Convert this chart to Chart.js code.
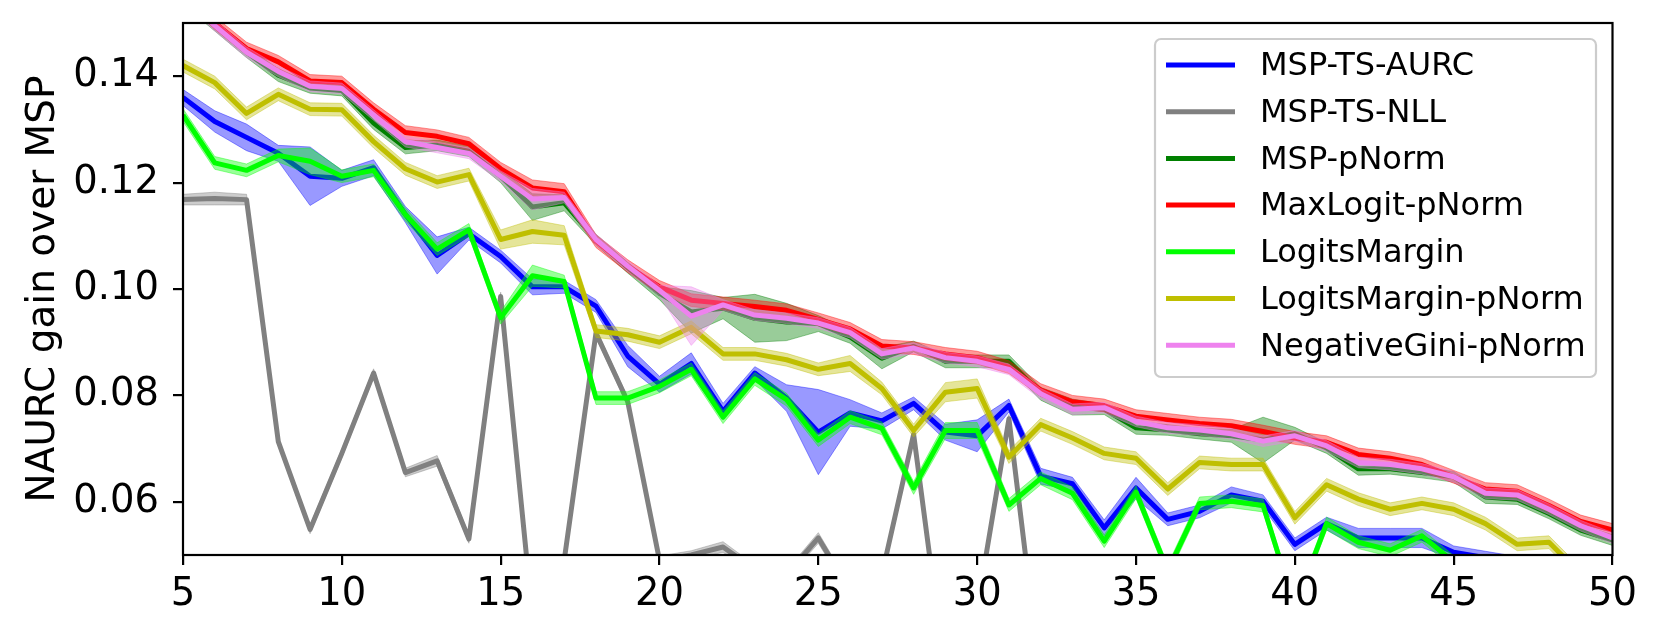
<!DOCTYPE html>
<html>
<head>
<meta charset="utf-8">
<script src="https://cdn.jsdelivr.net/npm/chart.js@4.4.1/dist/chart.umd.min.js"></script>
<style>
  html, body { margin: 0; padding: 0; background: #fff; }
  #wrap { width: 1660px; height: 638px; position: relative; }
</style>
</head>
<body>
<div id="wrap"><canvas id="chart"></canvas></div>
<script>
const xValues = [5, 6, 7, 8, 9, 10, 11, 12, 13, 14, 15, 16, 17, 18, 19, 20, 21, 22, 23, 24, 25, 26, 27,
    28, 29, 30, 31, 32, 33, 34, 35, 36, 37, 38, 39, 40, 41, 42, 43, 44, 45, 46, 47, 48, 49, 50];
const yTicks = [0.06, 0.08, 0.10, 0.12, 0.14];
const xTickStep = 5;

const seriesNames = ['MSP-TS-AURC', 'MSP-TS-NLL', 'MSP-pNorm', 'MaxLogit-pNorm',
    'LogitsMargin', 'LogitsMargin-pNorm', 'NegativeGini-pNorm'];
const seriesColors = [[0, 0, 255], [128, 128, 128], [0, 128, 0], [255, 0, 0],
    [0, 255, 0], [191, 191, 0], [238, 130, 238]];

// mean values per method
const mspTsAurc = [0.1360, 0.1315, 0.1285, 0.1255, 0.1212, 0.1208, 0.1228, 0.1140, 0.1063, 0.1104,
    0.1061, 0.1004, 0.1004, 0.0968, 0.0874, 0.0821, 0.0860, 0.0770, 0.0842, 0.0795,
    0.0731, 0.0767, 0.0752, 0.0785, 0.0731, 0.0724, 0.0781, 0.0648, 0.0634, 0.0551,
    0.0626, 0.0567, 0.0582, 0.0613, 0.0601, 0.0520, 0.0559, 0.0532, 0.0532, 0.0532,
    0.0505, 0.0495, 0.0485, 0.0475, 0.0465, 0.0455];
const mspTsNll = [0.1168, 0.1170, 0.1168, 0.0713, 0.0548, 0.0691, 0.0842, 0.0655, 0.0677, 0.0530,
    0.0986, 0.0386, 0.0490, 0.0917, 0.0788, 0.0490, 0.0500, 0.0515, 0.0473, 0.0463,
    0.0532, 0.0433, 0.0463, 0.0727, 0.0273, 0.0400, 0.0756, 0.0264, 0.0380, 0.0350,
    0.0410, 0.0330, 0.0370, 0.0400, 0.0340, 0.0310, 0.0360, 0.0390, 0.0330, 0.0350,
    0.0300, 0.0320, 0.0340, 0.0290, 0.0310, 0.0300];
const mspPnorm = [0.1545, 0.1495, 0.1445, 0.1402, 0.1378, 0.1373, 0.1312, 0.1266, 0.1270, 0.1259,
    0.1212, 0.1154, 0.1162, 0.1093, 0.1040, 0.0992, 0.0957, 0.0964, 0.0945, 0.0938,
    0.0935, 0.0910, 0.0870, 0.0892, 0.0864, 0.0864, 0.0864, 0.0803, 0.0778, 0.0774,
    0.0739, 0.0735, 0.0728, 0.0724, 0.0716, 0.0728, 0.0701, 0.0662, 0.0662, 0.0655,
    0.0647, 0.0609, 0.0605, 0.0578, 0.0547, 0.0528];
const maxLogitPnorm = [0.1555, 0.1500, 0.1452, 0.1427, 0.1391, 0.1388, 0.1338, 0.1294, 0.1287, 0.1273,
    0.1226, 0.1190, 0.1183, 0.1090, 0.1043, 0.1004, 0.0979, 0.0973, 0.0967, 0.0960,
    0.0943, 0.0925, 0.0893, 0.0889, 0.0878, 0.0871, 0.0853, 0.0810, 0.0788, 0.0781,
    0.0761, 0.0754, 0.0747, 0.0743, 0.0732, 0.0720, 0.0712, 0.0689, 0.0682, 0.0670,
    0.0647, 0.0624, 0.0620, 0.0593, 0.0563, 0.0547];
const logitsMargin = [0.1327, 0.1237, 0.1223, 0.1251, 0.1240, 0.1212, 0.1223, 0.1140, 0.1075, 0.1111,
    0.0946, 0.1025, 0.1014, 0.0795, 0.0795, 0.0817, 0.0849, 0.0759, 0.0831, 0.0792,
    0.0716, 0.0759, 0.0738, 0.0626, 0.0734, 0.0734, 0.0594, 0.0644, 0.0616, 0.0526,
    0.0618, 0.0470, 0.0597, 0.0601, 0.0593, 0.0402, 0.0559, 0.0524, 0.0509, 0.0536,
    0.0487, 0.0470, 0.0460, 0.0450, 0.0440, 0.0430];
const logitsMarginPnorm = [0.1420, 0.1388, 0.1330, 0.1366, 0.1338, 0.1337, 0.1277, 0.1226, 0.1201, 0.1215,
    0.1093, 0.1108, 0.1101, 0.0921, 0.0914, 0.0900, 0.0928, 0.0878, 0.0878, 0.0867,
    0.0849, 0.0860, 0.0813, 0.0734, 0.0806, 0.0813, 0.0684, 0.0745, 0.0720, 0.0691,
    0.0682, 0.0624, 0.0674, 0.0670, 0.0670, 0.0570, 0.0632, 0.0605, 0.0586, 0.0597,
    0.0586, 0.0559, 0.0520, 0.0524, 0.0464, 0.0450];
const negGiniPnorm = [0.1550, 0.1495, 0.1445, 0.1409, 0.1381, 0.1377, 0.1327, 0.1277, 0.1266, 0.1255,
    0.1212, 0.1169, 0.1172, 0.1093, 0.1043, 0.0997, 0.0949, 0.0970, 0.0951, 0.0945,
    0.0936, 0.0918, 0.0878, 0.0889, 0.0871, 0.0864, 0.0849, 0.0803, 0.0774, 0.0777,
    0.0751, 0.0739, 0.0735, 0.0728, 0.0714, 0.0724, 0.0705, 0.0674, 0.0670, 0.0662,
    0.0647, 0.0616, 0.0613, 0.0586, 0.0555, 0.0532];

// spread (std) per method, drawn as the shaded band
const mspTsAurcStd = [0.0015, 0.0020, 0.0025, 0.0015, 0.0055, 0.0015, 0.0015, 0.0015, 0.0035, 0.0012,
    0.0012, 0.0015, 0.0012, 0.0012, 0.0020, 0.0015, 0.0020, 0.0015, 0.0012, 0.0025,
    0.0080, 0.0025, 0.0015, 0.0012, 0.0015, 0.0030, 0.0012, 0.0015, 0.0012, 0.0015,
    0.0020, 0.0012, 0.0012, 0.0015, 0.0012, 0.0012, 0.0012, 0.0018, 0.0018, 0.0018,
    0.0012, 0.0012, 0.0012, 0.0012, 0.0012, 0.0012];
const mspTsNllStd = [0.0010, 0.0012, 0.0010, 0.0008, 0.0008, 0.0008, 0.0008, 0.0008, 0.0010, 0.0008,
    0.0008, 0.0008, 0.0008, 0.0008, 0.0008, 0.0008, 0.0008, 0.0010, 0.0008, 0.0008,
    0.0010, 0.0008, 0.0008, 0.0008, 0.0008, 0.0008, 0.0008, 0.0008, 0.0008, 0.0008,
    0.0008, 0.0008, 0.0008, 0.0008, 0.0008, 0.0008, 0.0008, 0.0008, 0.0008, 0.0008,
    0.0008, 0.0008, 0.0008, 0.0008, 0.0008, 0.0008];
const mspPnormStd = [0.0010, 0.0010, 0.0010, 0.0012, 0.0010, 0.0010, 0.0012, 0.0012, 0.0010, 0.0010,
    0.0012, 0.0025, 0.0015, 0.0010, 0.0010, 0.0012, 0.0040, 0.0020, 0.0045, 0.0035,
    0.0015, 0.0012, 0.0020, 0.0010, 0.0012, 0.0012, 0.0012, 0.0012, 0.0015, 0.0010,
    0.0012, 0.0010, 0.0010, 0.0012, 0.0043, 0.0012, 0.0010, 0.0012, 0.0010, 0.0010,
    0.0010, 0.0012, 0.0010, 0.0010, 0.0010, 0.0010];
const maxLogitPnormStd = [0.0012, 0.0012, 0.0012, 0.0012, 0.0012, 0.0012, 0.0012, 0.0013, 0.0012, 0.0012,
    0.0012, 0.0015, 0.0015, 0.0012, 0.0012, 0.0012, 0.0012, 0.0012, 0.0012, 0.0012,
    0.0012, 0.0012, 0.0012, 0.0012, 0.0012, 0.0012, 0.0012, 0.0012, 0.0012, 0.0012,
    0.0012, 0.0012, 0.0012, 0.0012, 0.0012, 0.0012, 0.0012, 0.0012, 0.0012, 0.0012,
    0.0012, 0.0012, 0.0012, 0.0012, 0.0012, 0.0012];
const logitsMarginStd = [0.0012, 0.0012, 0.0012, 0.0012, 0.0025, 0.0012, 0.0012, 0.0012, 0.0012, 0.0012,
    0.0012, 0.0020, 0.0012, 0.0012, 0.0012, 0.0012, 0.0012, 0.0012, 0.0012, 0.0012,
    0.0012, 0.0012, 0.0012, 0.0012, 0.0015, 0.0015, 0.0012, 0.0012, 0.0012, 0.0012,
    0.0012, 0.0012, 0.0012, 0.0012, 0.0012, 0.0012, 0.0012, 0.0012, 0.0012, 0.0012,
    0.0012, 0.0012, 0.0012, 0.0012, 0.0012, 0.0012];
const logitsMarginPnormStd = [0.0012, 0.0012, 0.0012, 0.0012, 0.0012, 0.0012, 0.0012, 0.0012, 0.0012, 0.0012,
    0.0018, 0.0022, 0.0018, 0.0012, 0.0012, 0.0012, 0.0012, 0.0012, 0.0012, 0.0012,
    0.0012, 0.0015, 0.0012, 0.0012, 0.0018, 0.0018, 0.0012, 0.0012, 0.0012, 0.0012,
    0.0012, 0.0012, 0.0012, 0.0012, 0.0012, 0.0012, 0.0012, 0.0012, 0.0012, 0.0012,
    0.0012, 0.0012, 0.0012, 0.0012, 0.0012, 0.0012];
const negGiniPnormStd = [0.0010, 0.0010, 0.0010, 0.0010, 0.0010, 0.0010, 0.0010, 0.0010, 0.0010, 0.0010,
    0.0010, 0.0020, 0.0010, 0.0010, 0.0010, 0.0010, 0.0055, 0.0010, 0.0010, 0.0010,
    0.0010, 0.0010, 0.0010, 0.0010, 0.0010, 0.0010, 0.0010, 0.0010, 0.0010, 0.0010,
    0.0010, 0.0010, 0.0010, 0.0010, 0.0010, 0.0010, 0.0010, 0.0010, 0.0010, 0.0010,
    0.0010, 0.0010, 0.0010, 0.0010, 0.0010, 0.0010];

const seriesMeans = [mspTsAurc, mspTsNll, mspPnorm, maxLogitPnorm, logitsMargin, logitsMarginPnorm, negGiniPnorm];
const seriesStds = [mspTsAurcStd, mspTsNllStd, mspPnormStd, maxLogitPnormStd, logitsMarginStd, logitsMarginPnormStd, negGiniPnormStd];

const FONT = 'DejaVu Sans';
Chart.defaults.font.family = FONT;
Chart.defaults.color = '#000';

function rgba(c, a) {
    return `rgba(${c[0]},${c[1]},${c[2]},${a})`;
}

// each method: lower edge, upper edge (filled to lower), then the mean line on top
const datasets = [];
seriesMeans.forEach((mean, k) => {
    const std = seriesStds[k];
    const col = seriesColors[k];
    const base = 100 - 10 * k; // later methods are drawn over earlier ones
    datasets.push({
        label: '',
        data: xValues.map((x, i) => ({ x, y: mean[i] - std[i] })),
        borderColor: rgba(col, 0.4),
        borderWidth: 1,
        pointRadius: 0,
        fill: false,
        order: base + 5,
        clip: 0
    });
    datasets.push({
        label: '',
        data: xValues.map((x, i) => ({ x, y: mean[i] + std[i] })),
        borderColor: rgba(col, 0.4),
        backgroundColor: rgba(col, 0.4),
        borderWidth: 1,
        pointRadius: 0,
        fill: '-1',
        order: base + 5,
        clip: 0
    });
    datasets.push({
        label: seriesNames[k],
        data: xValues.map((x, i) => ({ x, y: mean[i] })),
        borderColor: rgba(col, 1),
        borderWidth: 5,
        borderJoinStyle: 'round',
        pointRadius: 0,
        fill: false,
        order: base,
        clip: 0
    });
});

// black box around the plot area
const frame = {
    id: 'frame',
    afterDatasetsDraw(chart) {
        const { ctx, chartArea: a } = chart;
        ctx.save();
        ctx.strokeStyle = '#000';
        ctx.lineWidth = 2.2;
        ctx.strokeRect(a.left, a.top, a.right - a.left, a.bottom - a.top);
        ctx.restore();
    }
};

// matplotlib style legend in the upper right corner
const legendBox = {
    id: 'legendBox',
    afterDraw(chart) {
        const { ctx, chartArea: a } = chart;
        const right = a.right - 16.5;
        const top = a.top + 16;
        const left = 1155;
        const rowH = 46.7;
        ctx.save();
        ctx.beginPath();
        ctx.roundRect(left, top, right - left, 338, 6);
        ctx.fillStyle = 'rgba(255,255,255,0.8)';
        ctx.fill();
        ctx.lineWidth = 2.2;
        ctx.strokeStyle = '#cccccc';
        ctx.stroke();
        ctx.font = `32px "${FONT}"`;
        ctx.textBaseline = 'middle';
        ctx.textAlign = 'left';
        seriesNames.forEach((name, k) => {
            const y = top + 26 + k * rowH;
            ctx.strokeStyle = rgba(seriesColors[k], 1);
            ctx.lineWidth = 5;
            ctx.beginPath();
            ctx.moveTo(left + 11, y);
            ctx.lineTo(left + 80, y);
            ctx.stroke();
            ctx.fillStyle = '#000';
            ctx.fillText(name, left + 105, y + 2);
        });
        ctx.restore();
    }
};

new Chart(document.getElementById('chart'), {
    type: 'line',
    data: { datasets },
    options: {
        responsive: true,
        maintainAspectRatio: false,
        devicePixelRatio: 1,
        animation: false,
        events: [],
        layout: { padding: { top: 23, right: 47.5, left: 0, bottom: 0 } },
        plugins: {
            legend: { display: false },
            tooltip: { enabled: false }
        },
        scales: {
            x: {
                type: 'linear',
                min: 5,
                max: 50,
                ticks: { stepSize: xTickStep, font: { size: 38.5 }, padding: 7, maxRotation: 0 },
                grid: { drawOnChartArea: false, color: '#000', tickLength: 10, lineWidth: 2.2 },
                border: { display: false },
                afterFit: s => {
                    s.height = 83;
                    s.paddingLeft = 0;
                    s.paddingRight = 0;
                }
            },
            y: {
                min: 0.05,
                max: 0.15,
                afterBuildTicks: s => { s.ticks = yTicks.map(v => ({ value: v })); },
                ticks: { font: { size: 38.5 }, padding: 14, callback: v => v.toFixed(2) },
                grid: { drawOnChartArea: false, color: '#000', tickLength: 10, lineWidth: 2.2 },
                border: { display: false },
                title: {
                    display: true,
                    text: 'NAURC gain over MSP',
                    font: { size: 39 },
                    padding: { top: 20, bottom: 0 }
                },
                afterFit: s => {
                    s.width = 183;
                    s.paddingTop = 0;
                    s.paddingBottom = 0;
                }
            }
        }
    },
    plugins: [frame, legendBox]
});
</script>
</body>
</html>
